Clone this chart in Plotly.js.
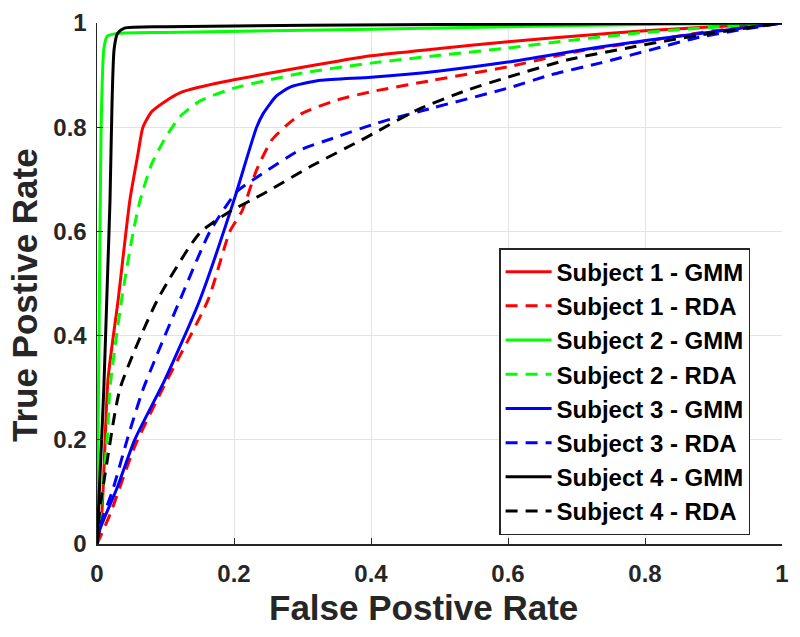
<!DOCTYPE html>
<html><head><meta charset="utf-8">
<script src="https://cdn.plot.ly/plotly-3.0.1.min.js"></script>
<style>html,body{margin:0;padding:0;background:#fff;}#chart{width:800px;height:637px;}</style>
</head><body><div id="chart"></div>
<script>
const tickVals = [0, 0.2, 0.4, 0.6, 0.8, 1];
const tickText = ['0', '0.2', '0.4', '0.6', '0.8', '1'];
const xTitle = 'False Postive Rate';
const yTitle = 'True Postive Rate';
const seriesNames = ['Subject 1 - GMM','Subject 1 - RDA','Subject 2 - GMM','Subject 2 - RDA','Subject 3 - GMM','Subject 3 - RDA','Subject 4 - GMM','Subject 4 - RDA'];

const s1GmmX = [0,0.007,0.016,0.031,0.048,0.06,0.067,0.08,0.1,0.121,0.15,0.2,0.3,0.4,0.5,0.6,0.7,0.8,0.9,1];
const s1GmmY = [0,0.06,0.315,0.47,0.66,0.75,0.8,0.83,0.85,0.866,0.877,0.891,0.915,0.937,0.951,0.964,0.975,0.985,0.993,1];
const s1RdaX = [0,0.02,0.055,0.095,0.162,0.194,0.212,0.233,0.255,0.277,0.3,0.35,0.4,0.49,0.6,0.7,0.8,0.9,1];
const s1RdaY = [0,0.06,0.187,0.296,0.468,0.6,0.64,0.718,0.775,0.804,0.827,0.852,0.868,0.89,0.916,0.945,0.965,0.985,1];
const s2GmmX = [0,0.003,0.006,0.01,0.015,0.03,0.1,0.4,0.6,0.8,1];
const s2GmmY = [0,0.4,0.8,0.95,0.975,0.98,0.982,0.988,0.993,0.997,1];
const s2RdaX = [0,0.005,0.009,0.015,0.019,0.036,0.053,0.063,0.08,0.1,0.121,0.15,0.2,0.3,0.4,0.5,0.6,0.7,0.8,0.9,1];
const s2RdaY = [0,0.06,0.11,0.205,0.3,0.47,0.6,0.66,0.73,0.78,0.82,0.85,0.875,0.904,0.923,0.938,0.952,0.968,0.982,0.992,1];
const s3GmmX = [0,0.004,0.03,0.055,0.099,0.15,0.2,0.233,0.243,0.262,0.282,0.326,0.4,0.5,0.6,0.734,0.88,1];
const s3GmmY = [0,0.027,0.11,0.2,0.315,0.468,0.66,0.8,0.827,0.86,0.877,0.89,0.896,0.908,0.925,0.954,0.98,1];
const s3RdaX = [0,0.004,0.023,0.044,0.067,0.121,0.165,0.204,0.238,0.296,0.345,0.409,0.49,0.6,0.661,0.734,0.807,0.88,1];
const s3RdaY = [0,0.033,0.104,0.2,0.296,0.468,0.6,0.676,0.708,0.756,0.779,0.808,0.837,0.875,0.9,0.923,0.948,0.973,1];
const s4GmmX = [0,0.005,0.01,0.015,0.019,0.022,0.025,0.03,0.04,0.1,0.5,1];
const s4GmmY = [0,0.15,0.3,0.5,0.66,0.85,0.95,0.98,0.99,0.993,0.997,1];
const s4RdaX = [0,0.004,0.015,0.034,0.088,0.15,0.19,0.248,0.311,0.394,0.467,0.54,0.6,0.686,0.782,0.88,1];
const s4RdaY = [0,0.065,0.161,0.3,0.468,0.597,0.635,0.676,0.724,0.781,0.833,0.871,0.896,0.929,0.954,0.977,1];

const xs = [s1GmmX,s1RdaX,s2GmmX,s2RdaX,s3GmmX,s3RdaX,s4GmmX,s4RdaX];
const ys = [s1GmmY,s1RdaY,s2GmmY,s2RdaY,s3GmmY,s3RdaY,s4GmmY,s4RdaY];
const colors = ['#ff0000','#ff0000','#00ff00','#00ff00','#0000ff','#0000ff','#000000','#000000'];
const dashes = ['solid','12px,8px','solid','12px,8px','solid','12px,8px','solid','12px,8px'];

const traces = seriesNames.map((n,i)=>({
  x: xs[i], y: ys[i], name: n, type: 'scatter', mode: 'lines',
  legendgroup: 'g'+i,
  line: {color: colors[i], width: 3, dash: dashes[i], shape: 'spline', smoothing: 0.6}
}));

const fam = 'Liberation Sans, Arial, sans-serif';
const axisCommon = {
  range: [0,1], tickvals: tickVals, ticktext: tickText,
  showgrid: true, gridcolor: '#e3e3e3', gridwidth: 1,
  showline: true, linecolor: '#262626', linewidth: 1.5,
  ticks: 'inside', ticklen: 6, tickcolor: '#262626', zeroline: false,
  tickfont: {family: fam, size: 24, color: '#262626', weight: 'bold'}
};
const layout = {
  width: 800, height: 637,
  margin: {l: 97, r: 18, t: 23, b: 93},
  paper_bgcolor: '#fff', plot_bgcolor: '#fff',
  showlegend: true,
  legend: {
    x: 0.587, y: 0.568, xanchor: 'left', yanchor: 'top',
    bordercolor: '#262626', borderwidth: 1.5, bgcolor: '#fff',
    font: {family: fam, size: 24, color: '#000', weight: 'bold'},
    tracegroupgap: 0, itemwidth: 46
  },
  xaxis: Object.assign({}, axisCommon, {ticklabelstandoff: 8}),
  yaxis: Object.assign({}, axisCommon, {ticklabelstandoff: 4}),
  annotations: [
    {text: xTitle, xref: 'paper', yref: 'paper', x: 0.477, y: -0.121, xanchor: 'center', yanchor: 'middle',
     showarrow: false, font: {family: fam, size: 35, color: '#262626', weight: 'bold'}},
    {text: yTitle, xref: 'paper', yref: 'paper', x: -0.105, y: 0.478, xanchor: 'center', yanchor: 'middle',
     textangle: -90, showarrow: false, font: {family: fam, size: 35, color: '#262626', weight: 'bold'}}
  ]
};
Plotly.newPlot('chart', traces, layout, {displayModeBar: false, staticPlot: true});
</script></body></html>
